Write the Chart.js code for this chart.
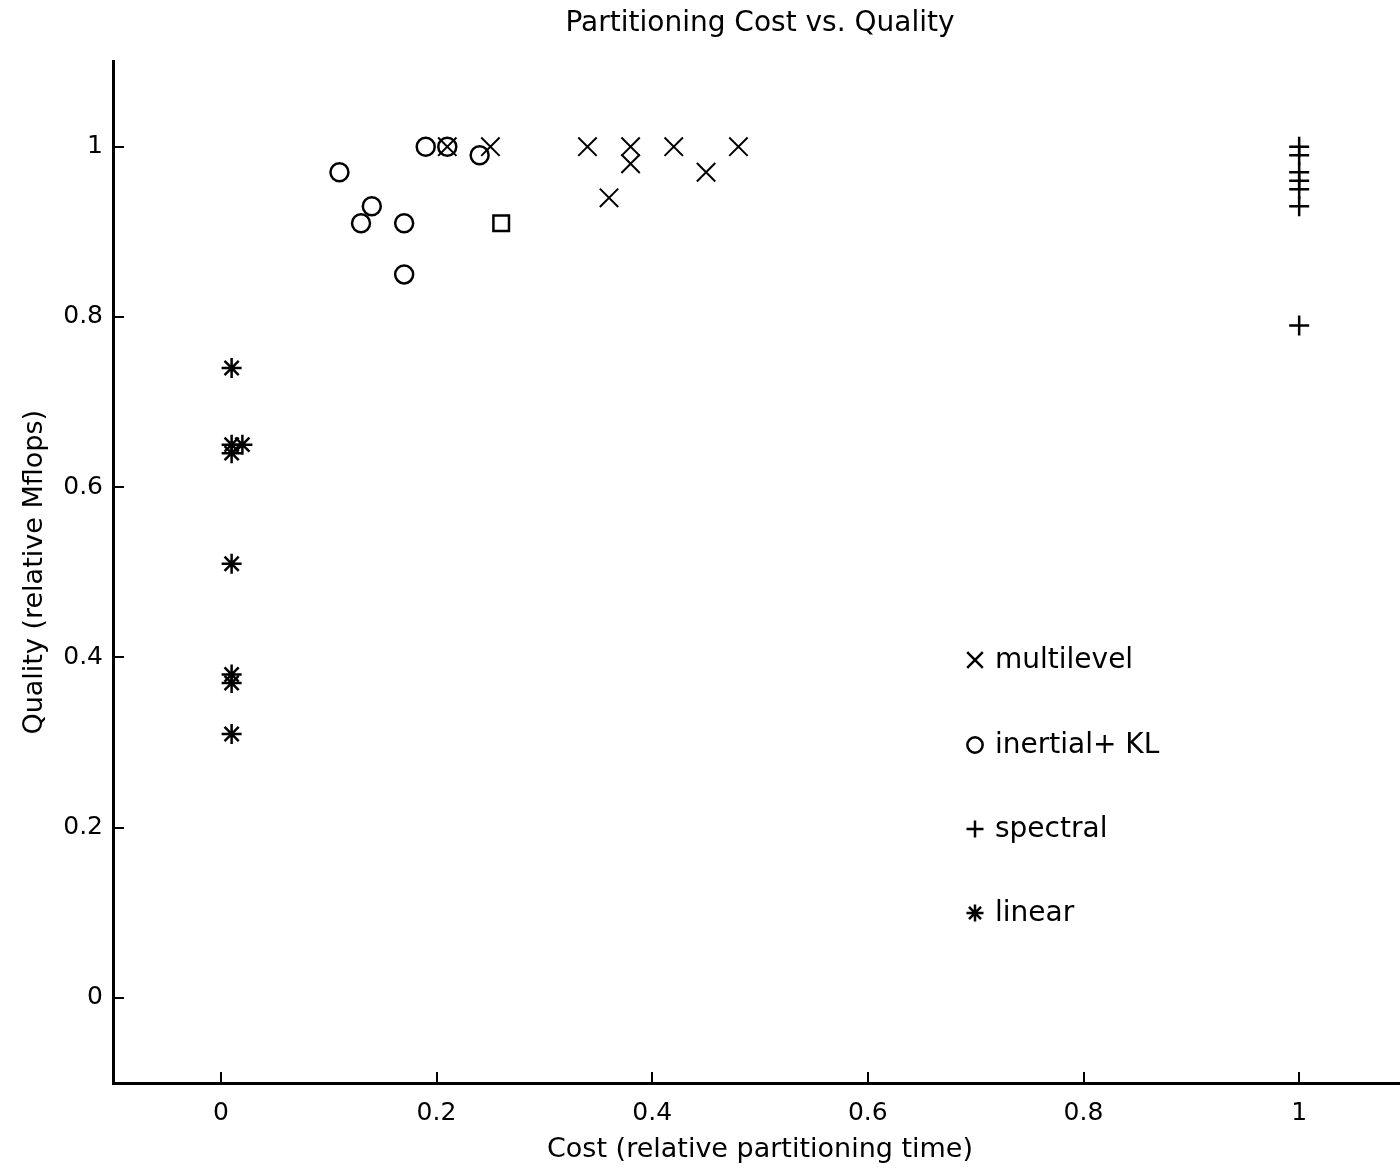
<!DOCTYPE html>
<html><head><meta charset="utf-8">
<script src="https://cdn.jsdelivr.net/npm/chart.js@4/dist/chart.umd.min.js"></script>
<style>html,body{margin:0;padding:0;background:#fff;overflow:hidden}#wrap{width:1422px;height:1169px;}</style>
</head><body><div id="wrap"><canvas id="c" width="1422" height="1169"></canvas></div>
<script>
const titleText = 'Partitioning Cost vs. Quality';
const xTitle = 'Cost (relative partitioning time)';
const yTitle = 'Quality (relative Mflops)';
const xTickValues = [0, 0.2, 0.4, 0.6, 0.8, 1];
const yTickValues = [0, 0.2, 0.4, 0.6, 0.8, 1];
const xRange = [-0.1, 1.1];
const yRange = [-0.1, 1.1];

const seriesNames = ['multilevel', 'inertial+ KL', 'spectral', 'linear'];

const multilevelX = [0.21, 0.25, 0.34, 0.36, 0.38, 0.38, 0.42, 0.45, 0.48];
const multilevelY = [1.00, 1.00, 1.00, 0.94, 1.00, 0.98, 1.00, 0.97, 1.00];

const inertialX = [0.11, 0.13, 0.14, 0.17, 0.17, 0.19, 0.21, 0.24];
const inertialY = [0.97, 0.91, 0.93, 0.91, 0.85, 1.00, 1.00, 0.99];

const squareX = [0.26];
const squareY = [0.91];

const spectralX = [1, 1, 1, 1, 1, 1, 1];
const spectralY = [1.00, 0.99, 0.97, 0.96, 0.95, 0.93, 0.79];

const linearX = [0.01, 0.01, 0.01, 0.02, 0.01, 0.01, 0.01, 0.01];
const linearY = [0.74, 0.65, 0.64, 0.65, 0.51, 0.38, 0.37, 0.31];

const pts = (xs, ys) => xs.map((x, i) => ({x, y: ys[i]}));

Chart.defaults.font.family = 'DejaVu Sans';
Chart.defaults.color = '#000';

function ds(label, xs, ys, style, radius, width, inLegend) {
  return {
    label, data: pts(xs, ys), pointStyle: style, pointRadius: radius,
    pointHoverRadius: radius, pointBorderWidth: width, pointBorderColor: '#000',
    pointBackgroundColor: 'rgba(0,0,0,0)', borderColor: '#000', backgroundColor: 'rgba(0,0,0,0)',
    showLine: false, inLegend
  };
}

const datasets = [
  ds(seriesNames[0], multilevelX, multilevelY, 'crossRot', 13, 2, true),
  ds(seriesNames[1], inertialX, inertialY, 'circle', 9, 2.5, true),
  ds(seriesNames[2], spectralX, spectralY, 'cross', 10, 2.5, true),
  ds(seriesNames[3], linearX, linearY, 'star', 10, 2.5, true),
  ds('', squareX, squareY, 'rect', 11, 2.5, false)
];

const innerTicks = {
  id: 'innerTicks',
  afterDraw(chart) {
    const {ctx, chartArea: a, scales: {x, y}} = chart;
    ctx.save();
    ctx.strokeStyle = '#000';
    ctx.lineWidth = 2;
    x.ticks.forEach(t => {
      const px = Math.round(x.getPixelForValue(t.value));
      ctx.beginPath(); ctx.moveTo(px, a.bottom); ctx.lineTo(px, a.bottom - 11); ctx.stroke();
    });
    y.ticks.forEach(t => {
      const py = Math.round(y.getPixelForValue(t.value));
      ctx.beginPath(); ctx.moveTo(a.left, py); ctx.lineTo(a.left + 11, py); ctx.stroke();
    });
    ctx.restore();
  }
};

const innerLegend = {
  id: 'innerLegend',
  afterDraw(chart) {
    const ctx = chart.ctx;
    const rowsY = [660, 745, 829, 913];
    const markerX = 975, textX = 995;
    ctx.save();
    ctx.font = '28px "DejaVu Sans"';
    ctx.textBaseline = 'middle';
    ctx.textAlign = 'left';
    let i = 0;
    chart.data.datasets.forEach(d => {
      if (!d.inLegend) return;
      const yy = rowsY[i++];
      ctx.strokeStyle = '#000';
      ctx.fillStyle = 'rgba(0,0,0,0)';
      ctx.lineWidth = 2.5;
      Chart.helpers.drawPoint(ctx, {pointStyle: d.pointStyle, radius: d.pointRadius * 0.85, borderWidth: 2.5, rotation: 0}, markerX, yy);
      ctx.fillStyle = '#000';
      ctx.fillText(d.label, textX, yy + 1);
    });
    ctx.restore();
  }
};

new Chart(document.getElementById('c'), {
  type: 'scatter',
  data: {datasets},
  plugins: [innerTicks, innerLegend],
  options: {
    responsive: false,
    animation: false,
    events: [],
    layout: {padding: {left: 0, right: 2, top: 0, bottom: 0}},
    plugins: {
      legend: {display: false},
      tooltip: {enabled: false},
      title: {
        display: true, text: titleText, fullSize: false, color: '#000',
        font: {size: 28, weight: 'normal', family: 'DejaVu Sans'},
        padding: {top: 7, bottom: 21}
      }
    },
    scales: {
      x: {
        type: 'linear', min: xRange[0], max: xRange[1],
        afterFit: s => { s.height = 86; },
        afterBuildTicks: s => { s.ticks = xTickValues.map(v => ({value: v})); },
        grid: {display: false, drawTicks: false},
        border: {display: true, color: '#000', width: 3},
        ticks: {callback: v => String(v), font: {size: 25}, color: '#000', padding: 15, maxRotation: 0, autoSkip: false},
        title: {display: true, text: xTitle, color: '#000', font: {size: 27}, padding: {top: 0, bottom: 3}}
      },
      y: {
        type: 'linear', min: yRange[0], max: yRange[1],
        afterFit: s => { s.width = 113; },
        afterBuildTicks: s => { s.ticks = yTickValues.map(v => ({value: v})); },
        grid: {display: false, drawTicks: false},
        border: {display: true, color: '#000', width: 3},
        ticks: {callback: v => String(v), font: {size: 25}, color: '#000', padding: 10, autoSkip: false},
        title: {display: true, text: yTitle, color: '#000', font: {size: 27}, padding: {top: 19, bottom: 0}}
      }
    }
  }
});
</script>
</body></html>
